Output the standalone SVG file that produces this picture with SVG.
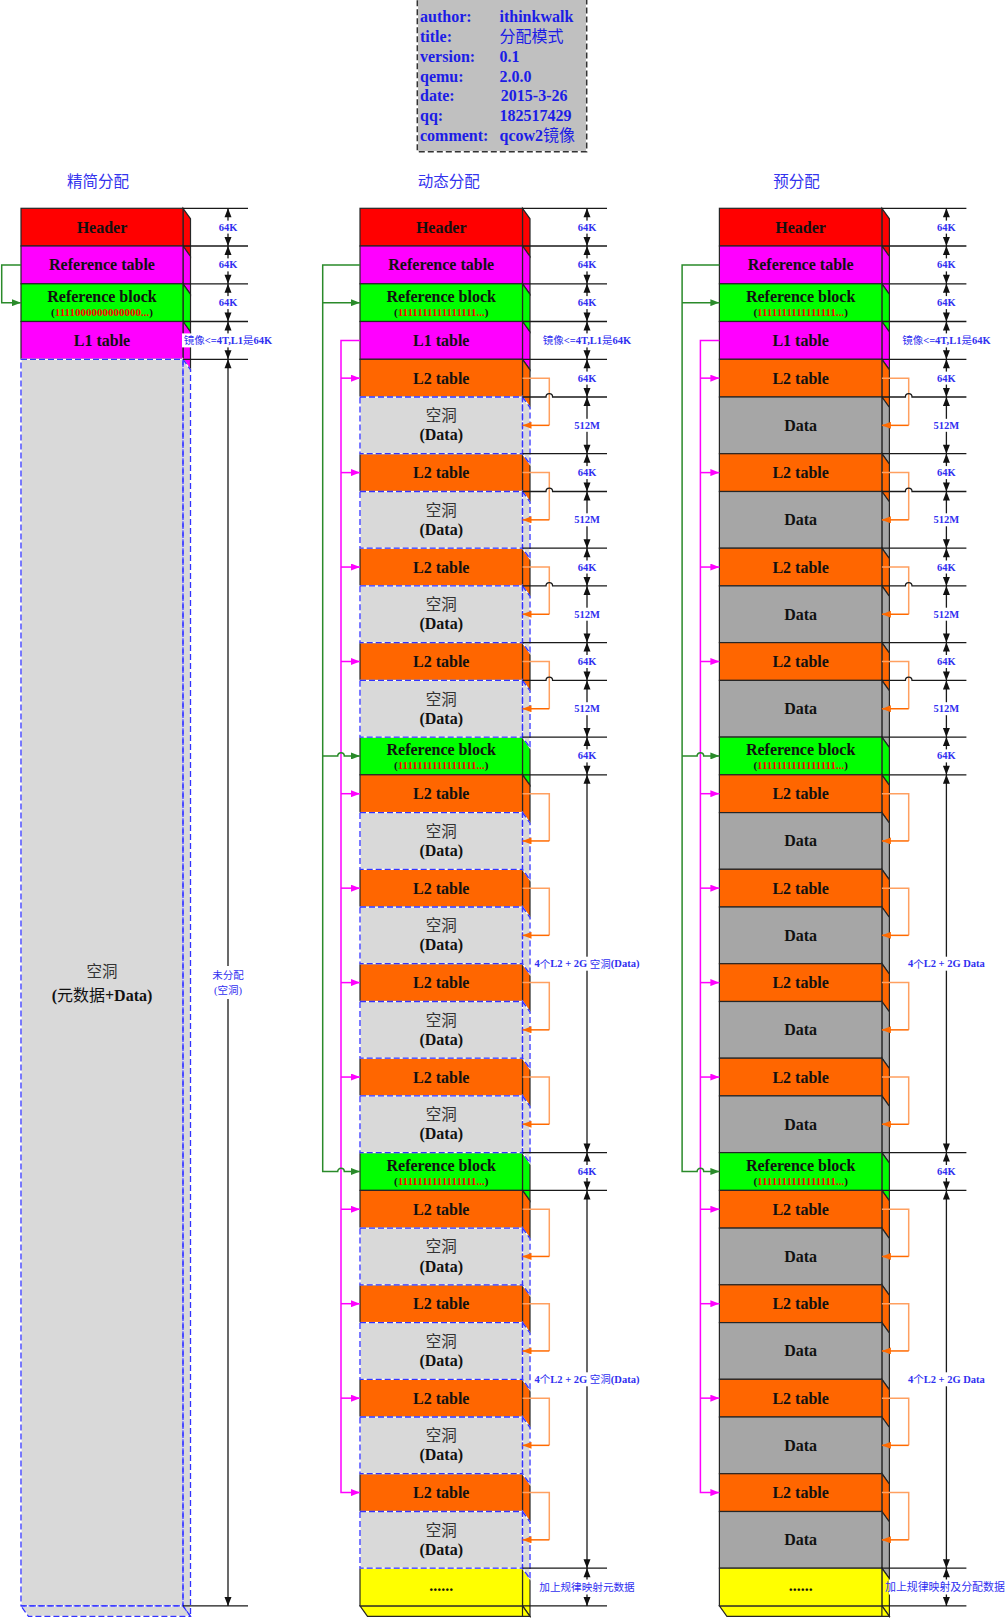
<svg xmlns="http://www.w3.org/2000/svg" width="1006" height="1618" viewBox="0 0 1006 1618">
<style>
text{font-family:'Liberation Serif','Noto Sans CJK SC',serif;dominant-baseline:central}
.b{font-size:16px;font-weight:bold;fill:#111;text-anchor:middle}
.s{font-size:11px;font-weight:bold;fill:#111;text-anchor:middle}
.r{fill:#FF0000}
.k{font-weight:normal}
.hz{font-size:15.5px;fill:#333;text-anchor:middle}
.d{font-size:10.5px;font-weight:bold;fill:#3030F0;text-anchor:middle}
.dc{font-size:10.5px;fill:#3030F0;text-anchor:middle}
.ttl{font-size:15.5px;fill:#3333EE;text-anchor:middle}
.inf{font-size:16px;font-weight:bold;fill:#1C1CE6}
.o{stroke:#262626;stroke-width:1.2}
.red{fill:#FF0000}.mag{fill:#FF00FF}.grn{fill:#00FF00}.org{fill:#FF6600}.yel{fill:#FFFF00}.dat{fill:#A6A6A6}
.hole{fill:#D9D9D9;stroke:#FFFFFF;stroke-width:1.3}
.hd{fill:none;stroke:#3333FF;stroke-width:1.3;stroke-dasharray:6 3}
.ext{fill:none;stroke:#1a1a1a;stroke-width:1.3}
.bg{fill:#FFFFFF}
.cg{fill:none;stroke:#2A8A2A;stroke-width:1.5}
.cm{fill:none;stroke:#FF00FF;stroke-width:1.5}
.co1{fill:none;stroke:#FFA060;stroke-width:1.5}
.co2{fill:none;stroke:#FF6A00;stroke-width:1.5}
.ah{fill:#111}
</style>
<defs>
<marker id="ag" markerUnits="userSpaceOnUse" markerWidth="9" markerHeight="7" refX="9" refY="3.5" orient="auto"><path d="M0,0L9,3.5L0,7z" fill="#2A8A2A"/></marker>
<marker id="am" markerUnits="userSpaceOnUse" markerWidth="9" markerHeight="7" refX="9" refY="3.5" orient="auto"><path d="M0,0L9,3.5L0,7z" fill="#FF00FF"/></marker>
<marker id="ao" markerUnits="userSpaceOnUse" markerWidth="9" markerHeight="7" refX="9" refY="3.5" orient="auto"><path d="M0,0L9,3.5L0,7z" fill="#FF6A00"/></marker>
</defs>
<rect width="1006" height="1618" fill="#FFFFFF"/>

<!-- info box -->
<g id="info">
<rect x="417.3" y="-3" width="169.4" height="154.7" fill="#C0C0C0" stroke="#FFFFFF" stroke-width="1.5"/>
<rect x="417.3" y="-3" width="169.4" height="154.7" fill="none" stroke="#333" stroke-width="1.5" stroke-dasharray="6 3"/>
<text class="inf" x="420" y="16">author:</text><text class="inf" x="499.5" y="16">ithinkwalk</text>
<text class="inf" x="420" y="36">title:</text><text class="inf" x="499.5" y="36"><tspan class="k">分配模式</tspan></text>
<text class="inf" x="420" y="56.5">version:</text><text class="inf" x="499.5" y="56.5">0.1</text>
<text class="inf" x="420" y="76">qemu:</text><text class="inf" x="499.5" y="76">2.0.0</text>
<text class="inf" x="420" y="95.7">date:</text><text class="inf" x="500.8" y="95.7">2015-3-26</text>
<text class="inf" x="420" y="115">qq:</text><text class="inf" x="499.5" y="115">182517429</text>
<text class="inf" x="420" y="135">comment:</text><text class="inf" x="499.5" y="135">qcow2<tspan class="k">镜像</tspan></text>
</g>

<g id="titles">
<text class="ttl" x="98" y="181.7">精简分配</text>
<text class="ttl" x="448.8" y="181.7">动态分配</text>
<text class="ttl" x="796.5" y="181.7">预分配</text>
</g>

<!-- LEFT COLUMN -->
<g id="left-col">
<g id="l-header"><polygon class="red o" points="183,208.3 190.5,218.8 190.5,256.5 183,246"/><rect class="red o" x="21" y="208.3" width="162" height="37.7"/><text class="b" x="102" y="227.15">Header</text></g>
<g id="l-reftable"><polygon class="mag o" points="183,246 190.5,256.5 190.5,294.3 183,283.8"/><rect class="mag o" x="21" y="246" width="162" height="37.8"/><text class="b" x="102" y="264.9">Reference table</text></g>
<g id="l-refblock"><polygon class="grn o" points="183,283.8 190.5,294.3 190.5,332 183,321.5"/><rect class="grn o" x="21" y="283.8" width="162" height="37.7"/><text class="b" x="102" y="296.3">Reference block</text><text class="s" x="102" y="311.7">(<tspan class="r">1111000000000000...</tspan>)</text></g>
<g id="l-l1"><polygon class="mag o" points="183,321.5 190.5,332 190.5,369.8 183,359.3"/><rect class="mag o" x="21" y="321.5" width="162" height="37.8"/><text class="b" x="102" y="340.4">L1 table</text></g>
<g id="l-hole">
<polygon class="hole" points="183,359.3 190.5,369.8 190.5,1616.4 183,1605.9"/>
<polygon class="hole" points="21,1605.9 183,1605.9 190.5,1616.4 28.5,1616.4"/>
<rect class="hole" x="21" y="359.3" width="162" height="1246.6"/>
<polygon class="hd" points="183,359.3 190.5,369.8 190.5,1616.4 183,1605.9"/>
<polygon class="hd" points="21,1605.9 183,1605.9 190.5,1616.4 28.5,1616.4"/>
<rect class="hd" x="21" y="359.3" width="162" height="1246.6"/>
<text class="hz" x="102" y="971.7">空洞</text>
<text class="b" x="102" y="995">(<tspan class="k">元数据</tspan>+Data)</text>
</g>
</g>

<!-- MIDDLE COLUMN -->
<g id="mid-col">
<g id="m-header"><polygon class="red o" points="522.5,208.3 530,218.8 530,256.5 522.5,246"/><rect class="red o" x="360" y="208.3" width="162.5" height="37.7"/><text class="b" x="441.25" y="227.15">Header</text></g>
<g id="m-reftable"><polygon class="mag o" points="522.5,246 530,256.5 530,294.3 522.5,283.8"/><rect class="mag o" x="360" y="246" width="162.5" height="37.8"/><text class="b" x="441.25" y="264.9">Reference table</text></g>
<g id="m-refblock1"><polygon class="grn o" points="522.5,283.8 530,294.3 530,332 522.5,321.5"/><rect class="grn o" x="360" y="283.8" width="162.5" height="37.7"/><text class="b" x="441.25" y="296.3">Reference block</text><text class="s" x="441.25" y="311.7">(<tspan class="r">1111111111111111...</tspan>)</text></g>
<g id="m-l1"><polygon class="mag o" points="522.5,321.5 530,332 530,369.8 522.5,359.3"/><rect class="mag o" x="360" y="321.5" width="162.5" height="37.8"/><text class="b" x="441.25" y="340.4">L1 table</text></g>
<g id="m-l2-1"><polygon class="org o" points="522.5,359.3 530,369.8 530,407.5 522.5,397"/><rect class="org o" x="360" y="359.3" width="162.5" height="37.7"/><text class="b" x="441.25" y="378.15">L2 table</text></g>
<g id="m-l2-2"><polygon class="org o" points="522.5,453.7 530,464.2 530,502 522.5,491.5"/><rect class="org o" x="360" y="453.7" width="162.5" height="37.8"/><text class="b" x="441.25" y="472.6">L2 table</text></g>
<g id="m-l2-3"><polygon class="org o" points="522.5,548.2 530,558.7 530,596.4 522.5,585.9"/><rect class="org o" x="360" y="548.2" width="162.5" height="37.7"/><text class="b" x="441.25" y="567.05">L2 table</text></g>
<g id="m-l2-4"><polygon class="org o" points="522.5,642.6 530,653.1 530,690.9 522.5,680.4"/><rect class="org o" x="360" y="642.6" width="162.5" height="37.8"/><text class="b" x="441.25" y="661.5">L2 table</text></g>
<g id="m-refblock2"><polygon class="grn o" points="522.5,737.1 530,747.6 530,785.3 522.5,774.8"/><rect class="grn o" x="360" y="737.1" width="162.5" height="37.7"/><text class="b" x="441.25" y="749.6">Reference block</text><text class="s" x="441.25" y="765">(<tspan class="r">1111111111111111...</tspan>)</text></g>
<g id="m-l2-5"><polygon class="org o" points="522.5,774.8 530,785.3 530,823.1 522.5,812.6"/><rect class="org o" x="360" y="774.8" width="162.5" height="37.8"/><text class="b" x="441.25" y="793.7">L2 table</text></g>
<g id="m-l2-6"><polygon class="org o" points="522.5,869.3 530,879.8 530,917.5 522.5,907"/><rect class="org o" x="360" y="869.3" width="162.5" height="37.7"/><text class="b" x="441.25" y="888.15">L2 table</text></g>
<g id="m-l2-7"><polygon class="org o" points="522.5,963.7 530,974.2 530,1012 522.5,1001.5"/><rect class="org o" x="360" y="963.7" width="162.5" height="37.8"/><text class="b" x="441.25" y="982.6">L2 table</text></g>
<g id="m-l2-8"><polygon class="org o" points="522.5,1058.2 530,1068.7 530,1106.4 522.5,1095.9"/><rect class="org o" x="360" y="1058.2" width="162.5" height="37.7"/><text class="b" x="441.25" y="1077.05">L2 table</text></g>
<g id="m-refblock3"><polygon class="grn o" points="522.5,1152.6 530,1163.1 530,1200.9 522.5,1190.4"/><rect class="grn o" x="360" y="1152.6" width="162.5" height="37.8"/><text class="b" x="441.25" y="1165.1">Reference block</text><text class="s" x="441.25" y="1180.5">(<tspan class="r">1111111111111111...</tspan>)</text></g>
<g id="m-l2-9"><polygon class="org o" points="522.5,1190.4 530,1200.9 530,1238.6 522.5,1228.1"/><rect class="org o" x="360" y="1190.4" width="162.5" height="37.7"/><text class="b" x="441.25" y="1209.25">L2 table</text></g>
<g id="m-l2-10"><polygon class="org o" points="522.5,1284.8 530,1295.3 530,1333.1 522.5,1322.6"/><rect class="org o" x="360" y="1284.8" width="162.5" height="37.8"/><text class="b" x="441.25" y="1303.7">L2 table</text></g>
<g id="m-l2-11"><polygon class="org o" points="522.5,1379.3 530,1389.8 530,1427.5 522.5,1417"/><rect class="org o" x="360" y="1379.3" width="162.5" height="37.7"/><text class="b" x="441.25" y="1398.15">L2 table</text></g>
<g id="m-l2-12"><polygon class="org o" points="522.5,1473.7 530,1484.2 530,1522 522.5,1511.5"/><rect class="org o" x="360" y="1473.7" width="162.5" height="37.8"/><text class="b" x="441.25" y="1492.6">L2 table</text></g>
<g id="m-more"><polygon class="yel o" points="522.5,1568.2 530,1578.7 530,1616.4 522.5,1605.9"/><polygon class="yel o" points="360,1605.9 522.5,1605.9 530,1616.4 367.5,1616.4"/><rect class="yel o" x="360" y="1568.2" width="162.5" height="37.7"/><line class="o" x1="522.5" y1="1605.9" x2="522.5" y2="1616.4"/><text class="b" x="441.25" y="1585">......</text></g>

<g id="m-hole-1"><polygon class="hole" points="522.5,397 530,407.5 530,464.2 522.5,453.7"/><rect class="hole" x="360" y="397" width="162.5" height="56.7"/><polygon class="hd" points="522.5,397 530,407.5 530,464.2 522.5,453.7"/><rect class="hd" x="360" y="397" width="162.5" height="56.7"/><text class="hz" x="441.25" y="415.65">空洞</text><text class="b" x="441.25" y="434.95">(Data)</text></g>
<g id="m-hole-2"><polygon class="hole" points="522.5,491.5 530,502 530,558.7 522.5,548.2"/><rect class="hole" x="360" y="491.5" width="162.5" height="56.7"/><polygon class="hd" points="522.5,491.5 530,502 530,558.7 522.5,548.2"/><rect class="hd" x="360" y="491.5" width="162.5" height="56.7"/><text class="hz" x="441.25" y="510.15">空洞</text><text class="b" x="441.25" y="529.45">(Data)</text></g>
<g id="m-hole-3"><polygon class="hole" points="522.5,585.9 530,596.4 530,653.1 522.5,642.6"/><rect class="hole" x="360" y="585.9" width="162.5" height="56.7"/><polygon class="hd" points="522.5,585.9 530,596.4 530,653.1 522.5,642.6"/><rect class="hd" x="360" y="585.9" width="162.5" height="56.7"/><text class="hz" x="441.25" y="604.55">空洞</text><text class="b" x="441.25" y="623.85">(Data)</text></g>
<g id="m-hole-4"><polygon class="hole" points="522.5,680.4 530,690.9 530,747.6 522.5,737.1"/><rect class="hole" x="360" y="680.4" width="162.5" height="56.7"/><polygon class="hd" points="522.5,680.4 530,690.9 530,747.6 522.5,737.1"/><rect class="hd" x="360" y="680.4" width="162.5" height="56.7"/><text class="hz" x="441.25" y="699.05">空洞</text><text class="b" x="441.25" y="718.35">(Data)</text></g>
<g id="m-hole-5"><polygon class="hole" points="522.5,812.6 530,823.1 530,879.8 522.5,869.3"/><rect class="hole" x="360" y="812.6" width="162.5" height="56.7"/><polygon class="hd" points="522.5,812.6 530,823.1 530,879.8 522.5,869.3"/><rect class="hd" x="360" y="812.6" width="162.5" height="56.7"/><text class="hz" x="441.25" y="831.25">空洞</text><text class="b" x="441.25" y="850.55">(Data)</text></g>
<g id="m-hole-6"><polygon class="hole" points="522.5,907 530,917.5 530,974.2 522.5,963.7"/><rect class="hole" x="360" y="907" width="162.5" height="56.7"/><polygon class="hd" points="522.5,907 530,917.5 530,974.2 522.5,963.7"/><rect class="hd" x="360" y="907" width="162.5" height="56.7"/><text class="hz" x="441.25" y="925.65">空洞</text><text class="b" x="441.25" y="944.95">(Data)</text></g>
<g id="m-hole-7"><polygon class="hole" points="522.5,1001.5 530,1012 530,1068.7 522.5,1058.2"/><rect class="hole" x="360" y="1001.5" width="162.5" height="56.7"/><polygon class="hd" points="522.5,1001.5 530,1012 530,1068.7 522.5,1058.2"/><rect class="hd" x="360" y="1001.5" width="162.5" height="56.7"/><text class="hz" x="441.25" y="1020.15">空洞</text><text class="b" x="441.25" y="1039.45">(Data)</text></g>
<g id="m-hole-8"><polygon class="hole" points="522.5,1095.9 530,1106.4 530,1163.1 522.5,1152.6"/><rect class="hole" x="360" y="1095.9" width="162.5" height="56.7"/><polygon class="hd" points="522.5,1095.9 530,1106.4 530,1163.1 522.5,1152.6"/><rect class="hd" x="360" y="1095.9" width="162.5" height="56.7"/><text class="hz" x="441.25" y="1114.55">空洞</text><text class="b" x="441.25" y="1133.85">(Data)</text></g>
<g id="m-hole-9"><polygon class="hole" points="522.5,1228.1 530,1238.6 530,1295.3 522.5,1284.8"/><rect class="hole" x="360" y="1228.1" width="162.5" height="56.7"/><polygon class="hd" points="522.5,1228.1 530,1238.6 530,1295.3 522.5,1284.8"/><rect class="hd" x="360" y="1228.1" width="162.5" height="56.7"/><text class="hz" x="441.25" y="1246.75">空洞</text><text class="b" x="441.25" y="1266.05">(Data)</text></g>
<g id="m-hole-10"><polygon class="hole" points="522.5,1322.6 530,1333.1 530,1389.8 522.5,1379.3"/><rect class="hole" x="360" y="1322.6" width="162.5" height="56.7"/><polygon class="hd" points="522.5,1322.6 530,1333.1 530,1389.8 522.5,1379.3"/><rect class="hd" x="360" y="1322.6" width="162.5" height="56.7"/><text class="hz" x="441.25" y="1341.25">空洞</text><text class="b" x="441.25" y="1360.55">(Data)</text></g>
<g id="m-hole-11"><polygon class="hole" points="522.5,1417 530,1427.5 530,1484.2 522.5,1473.7"/><rect class="hole" x="360" y="1417" width="162.5" height="56.7"/><polygon class="hd" points="522.5,1417 530,1427.5 530,1484.2 522.5,1473.7"/><rect class="hd" x="360" y="1417" width="162.5" height="56.7"/><text class="hz" x="441.25" y="1435.65">空洞</text><text class="b" x="441.25" y="1454.95">(Data)</text></g>
<g id="m-hole-12"><polygon class="hole" points="522.5,1511.5 530,1522 530,1578.7 522.5,1568.2"/><rect class="hole" x="360" y="1511.5" width="162.5" height="56.7"/><polygon class="hd" points="522.5,1511.5 530,1522 530,1578.7 522.5,1568.2"/><rect class="hd" x="360" y="1511.5" width="162.5" height="56.7"/><text class="hz" x="441.25" y="1530.15">空洞</text><text class="b" x="441.25" y="1549.45">(Data)</text></g>
</g>

<!-- RIGHT COLUMN (same geometry shifted) -->
<g id="right-col" transform="translate(359.4,0)">
<g id="r-header"><polygon class="red o" points="522.5,208.3 530,218.8 530,256.5 522.5,246"/><rect class="red o" x="360" y="208.3" width="162.5" height="37.7"/><text class="b" x="441.25" y="227.15">Header</text></g>
<g id="r-reftable"><polygon class="mag o" points="522.5,246 530,256.5 530,294.3 522.5,283.8"/><rect class="mag o" x="360" y="246" width="162.5" height="37.8"/><text class="b" x="441.25" y="264.9">Reference table</text></g>
<g id="r-refblock1"><polygon class="grn o" points="522.5,283.8 530,294.3 530,332 522.5,321.5"/><rect class="grn o" x="360" y="283.8" width="162.5" height="37.7"/><text class="b" x="441.25" y="296.3">Reference block</text><text class="s" x="441.25" y="311.7">(<tspan class="r">1111111111111111...</tspan>)</text></g>
<g id="r-l1"><polygon class="mag o" points="522.5,321.5 530,332 530,369.8 522.5,359.3"/><rect class="mag o" x="360" y="321.5" width="162.5" height="37.8"/><text class="b" x="441.25" y="340.4">L1 table</text></g>
<g id="r-l2-1"><polygon class="org o" points="522.5,359.3 530,369.8 530,407.5 522.5,397"/><rect class="org o" x="360" y="359.3" width="162.5" height="37.7"/><text class="b" x="441.25" y="378.15">L2 table</text></g>
<g id="r-data-1"><polygon class="dat o" points="522.5,397 530,407.5 530,464.2 522.5,453.7"/><rect class="dat o" x="360" y="397" width="162.5" height="56.7"/><text class="b" x="441.25" y="425.35">Data</text></g>
<g id="r-l2-2"><polygon class="org o" points="522.5,453.7 530,464.2 530,502 522.5,491.5"/><rect class="org o" x="360" y="453.7" width="162.5" height="37.8"/><text class="b" x="441.25" y="472.6">L2 table</text></g>
<g id="r-data-2"><polygon class="dat o" points="522.5,491.5 530,502 530,558.7 522.5,548.2"/><rect class="dat o" x="360" y="491.5" width="162.5" height="56.7"/><text class="b" x="441.25" y="519.85">Data</text></g>
<g id="r-l2-3"><polygon class="org o" points="522.5,548.2 530,558.7 530,596.4 522.5,585.9"/><rect class="org o" x="360" y="548.2" width="162.5" height="37.7"/><text class="b" x="441.25" y="567.05">L2 table</text></g>
<g id="r-data-3"><polygon class="dat o" points="522.5,585.9 530,596.4 530,653.1 522.5,642.6"/><rect class="dat o" x="360" y="585.9" width="162.5" height="56.7"/><text class="b" x="441.25" y="614.25">Data</text></g>
<g id="r-l2-4"><polygon class="org o" points="522.5,642.6 530,653.1 530,690.9 522.5,680.4"/><rect class="org o" x="360" y="642.6" width="162.5" height="37.8"/><text class="b" x="441.25" y="661.5">L2 table</text></g>
<g id="r-data-4"><polygon class="dat o" points="522.5,680.4 530,690.9 530,747.6 522.5,737.1"/><rect class="dat o" x="360" y="680.4" width="162.5" height="56.7"/><text class="b" x="441.25" y="708.75">Data</text></g>
<g id="r-refblock2"><polygon class="grn o" points="522.5,737.1 530,747.6 530,785.3 522.5,774.8"/><rect class="grn o" x="360" y="737.1" width="162.5" height="37.7"/><text class="b" x="441.25" y="749.6">Reference block</text><text class="s" x="441.25" y="765">(<tspan class="r">1111111111111111...</tspan>)</text></g>
<g id="r-l2-5"><polygon class="org o" points="522.5,774.8 530,785.3 530,823.1 522.5,812.6"/><rect class="org o" x="360" y="774.8" width="162.5" height="37.8"/><text class="b" x="441.25" y="793.7">L2 table</text></g>
<g id="r-data-5"><polygon class="dat o" points="522.5,812.6 530,823.1 530,879.8 522.5,869.3"/><rect class="dat o" x="360" y="812.6" width="162.5" height="56.7"/><text class="b" x="441.25" y="840.95">Data</text></g>
<g id="r-l2-6"><polygon class="org o" points="522.5,869.3 530,879.8 530,917.5 522.5,907"/><rect class="org o" x="360" y="869.3" width="162.5" height="37.7"/><text class="b" x="441.25" y="888.15">L2 table</text></g>
<g id="r-data-6"><polygon class="dat o" points="522.5,907 530,917.5 530,974.2 522.5,963.7"/><rect class="dat o" x="360" y="907" width="162.5" height="56.7"/><text class="b" x="441.25" y="935.35">Data</text></g>
<g id="r-l2-7"><polygon class="org o" points="522.5,963.7 530,974.2 530,1012 522.5,1001.5"/><rect class="org o" x="360" y="963.7" width="162.5" height="37.8"/><text class="b" x="441.25" y="982.6">L2 table</text></g>
<g id="r-data-7"><polygon class="dat o" points="522.5,1001.5 530,1012 530,1068.7 522.5,1058.2"/><rect class="dat o" x="360" y="1001.5" width="162.5" height="56.7"/><text class="b" x="441.25" y="1029.85">Data</text></g>
<g id="r-l2-8"><polygon class="org o" points="522.5,1058.2 530,1068.7 530,1106.4 522.5,1095.9"/><rect class="org o" x="360" y="1058.2" width="162.5" height="37.7"/><text class="b" x="441.25" y="1077.05">L2 table</text></g>
<g id="r-data-8"><polygon class="dat o" points="522.5,1095.9 530,1106.4 530,1163.1 522.5,1152.6"/><rect class="dat o" x="360" y="1095.9" width="162.5" height="56.7"/><text class="b" x="441.25" y="1124.25">Data</text></g>
<g id="r-refblock3"><polygon class="grn o" points="522.5,1152.6 530,1163.1 530,1200.9 522.5,1190.4"/><rect class="grn o" x="360" y="1152.6" width="162.5" height="37.8"/><text class="b" x="441.25" y="1165.1">Reference block</text><text class="s" x="441.25" y="1180.5">(<tspan class="r">1111111111111111...</tspan>)</text></g>
<g id="r-l2-9"><polygon class="org o" points="522.5,1190.4 530,1200.9 530,1238.6 522.5,1228.1"/><rect class="org o" x="360" y="1190.4" width="162.5" height="37.7"/><text class="b" x="441.25" y="1209.25">L2 table</text></g>
<g id="r-data-9"><polygon class="dat o" points="522.5,1228.1 530,1238.6 530,1295.3 522.5,1284.8"/><rect class="dat o" x="360" y="1228.1" width="162.5" height="56.7"/><text class="b" x="441.25" y="1256.45">Data</text></g>
<g id="r-l2-10"><polygon class="org o" points="522.5,1284.8 530,1295.3 530,1333.1 522.5,1322.6"/><rect class="org o" x="360" y="1284.8" width="162.5" height="37.8"/><text class="b" x="441.25" y="1303.7">L2 table</text></g>
<g id="r-data-10"><polygon class="dat o" points="522.5,1322.6 530,1333.1 530,1389.8 522.5,1379.3"/><rect class="dat o" x="360" y="1322.6" width="162.5" height="56.7"/><text class="b" x="441.25" y="1350.95">Data</text></g>
<g id="r-l2-11"><polygon class="org o" points="522.5,1379.3 530,1389.8 530,1427.5 522.5,1417"/><rect class="org o" x="360" y="1379.3" width="162.5" height="37.7"/><text class="b" x="441.25" y="1398.15">L2 table</text></g>
<g id="r-data-11"><polygon class="dat o" points="522.5,1417 530,1427.5 530,1484.2 522.5,1473.7"/><rect class="dat o" x="360" y="1417" width="162.5" height="56.7"/><text class="b" x="441.25" y="1445.35">Data</text></g>
<g id="r-l2-12"><polygon class="org o" points="522.5,1473.7 530,1484.2 530,1522 522.5,1511.5"/><rect class="org o" x="360" y="1473.7" width="162.5" height="37.8"/><text class="b" x="441.25" y="1492.6">L2 table</text></g>
<g id="r-data-12"><polygon class="dat o" points="522.5,1511.5 530,1522 530,1578.7 522.5,1568.2"/><rect class="dat o" x="360" y="1511.5" width="162.5" height="56.7"/><text class="b" x="441.25" y="1539.85">Data</text></g>
<g id="r-more"><polygon class="yel o" points="522.5,1568.2 530,1578.7 530,1616.4 522.5,1605.9"/><polygon class="yel o" points="360,1605.9 522.5,1605.9 530,1616.4 367.5,1616.4"/><rect class="yel o" x="360" y="1568.2" width="162.5" height="37.7"/><line class="o" x1="522.5" y1="1605.9" x2="522.5" y2="1616.4"/><text class="b" x="441.25" y="1585">......</text></g>
</g>

<!-- CONNECTORS -->
<g id="connectors">
<g id="left-conn">
<path class="cg" d="M21,264.9H1.7V302.65H21" marker-end="url(#ag)"/>
</g>
<g id="mid-conn">
<path class="cm" d="M360,340.4H341V1492.6H360" marker-end="url(#am)"/>
<path class="cm" d="M341,378.15H360" marker-end="url(#am)"/>
<path class="cm" d="M341,472.6H360" marker-end="url(#am)"/>
<path class="cm" d="M341,567.05H360" marker-end="url(#am)"/>
<path class="cm" d="M341,661.5H360" marker-end="url(#am)"/>
<path class="cm" d="M341,793.7H360" marker-end="url(#am)"/>
<path class="cm" d="M341,888.15H360" marker-end="url(#am)"/>
<path class="cm" d="M341,982.6H360" marker-end="url(#am)"/>
<path class="cm" d="M341,1077.05H360" marker-end="url(#am)"/>
<path class="cm" d="M341,1209.25H360" marker-end="url(#am)"/>
<path class="cm" d="M341,1303.7H360" marker-end="url(#am)"/>
<path class="cm" d="M341,1398.15H360" marker-end="url(#am)"/>
<path class="cg" d="M360,264.9H322.7V1171.5H337.7a3.3,3.3 0 0 1 6.6,0H360" marker-end="url(#ag)"/>
<path class="cg" d="M322.7,302.65H360" marker-end="url(#ag)"/>
<path class="cg" d="M322.7,755.95H337.7a3.3,3.3 0 0 1 6.6,0H360" marker-end="url(#ag)"/>
<path class="co1" d="M522.5,378.15H549.3V425.35M522.5,472.6H549.3V519.85M522.5,567.05H549.3V614.25M522.5,661.5H549.3V708.75M522.5,793.7H549.3V840.95M522.5,888.15H549.3V935.35M522.5,982.6H549.3V1029.85M522.5,1077.05H549.3V1124.25M522.5,1209.25H549.3V1256.45M522.5,1303.7H549.3V1350.95M522.5,1398.15H549.3V1445.35M522.5,1492.6H549.3V1539.85"/>
<path class="co2" d="M549.3,425.35H522.5" marker-end="url(#ao)"/>
<path class="co2" d="M549.3,519.85H522.5" marker-end="url(#ao)"/>
<path class="co2" d="M549.3,614.25H522.5" marker-end="url(#ao)"/>
<path class="co2" d="M549.3,708.75H522.5" marker-end="url(#ao)"/>
<path class="co2" d="M549.3,840.95H522.5" marker-end="url(#ao)"/>
<path class="co2" d="M549.3,935.35H522.5" marker-end="url(#ao)"/>
<path class="co2" d="M549.3,1029.85H522.5" marker-end="url(#ao)"/>
<path class="co2" d="M549.3,1124.25H522.5" marker-end="url(#ao)"/>
<path class="co2" d="M549.3,1256.45H522.5" marker-end="url(#ao)"/>
<path class="co2" d="M549.3,1350.95H522.5" marker-end="url(#ao)"/>
<path class="co2" d="M549.3,1445.35H522.5" marker-end="url(#ao)"/>
<path class="co2" d="M549.3,1539.85H522.5" marker-end="url(#ao)"/>
</g>
<g id="right-conn" transform="translate(359.4,0)">
<path class="cm" d="M360,340.4H341V1492.6H360" marker-end="url(#am)"/>
<path class="cm" d="M341,378.15H360" marker-end="url(#am)"/>
<path class="cm" d="M341,472.6H360" marker-end="url(#am)"/>
<path class="cm" d="M341,567.05H360" marker-end="url(#am)"/>
<path class="cm" d="M341,661.5H360" marker-end="url(#am)"/>
<path class="cm" d="M341,793.7H360" marker-end="url(#am)"/>
<path class="cm" d="M341,888.15H360" marker-end="url(#am)"/>
<path class="cm" d="M341,982.6H360" marker-end="url(#am)"/>
<path class="cm" d="M341,1077.05H360" marker-end="url(#am)"/>
<path class="cm" d="M341,1209.25H360" marker-end="url(#am)"/>
<path class="cm" d="M341,1303.7H360" marker-end="url(#am)"/>
<path class="cm" d="M341,1398.15H360" marker-end="url(#am)"/>
<path class="cg" d="M360,264.9H322.7V1171.5H337.7a3.3,3.3 0 0 1 6.6,0H360" marker-end="url(#ag)"/>
<path class="cg" d="M322.7,302.65H360" marker-end="url(#ag)"/>
<path class="cg" d="M322.7,755.95H337.7a3.3,3.3 0 0 1 6.6,0H360" marker-end="url(#ag)"/>
<path class="co1" d="M522.5,378.15H549.3V425.35M522.5,472.6H549.3V519.85M522.5,567.05H549.3V614.25M522.5,661.5H549.3V708.75M522.5,793.7H549.3V840.95M522.5,888.15H549.3V935.35M522.5,982.6H549.3V1029.85M522.5,1077.05H549.3V1124.25M522.5,1209.25H549.3V1256.45M522.5,1303.7H549.3V1350.95M522.5,1398.15H549.3V1445.35M522.5,1492.6H549.3V1539.85"/>
<path class="co2" d="M549.3,425.35H522.5" marker-end="url(#ao)"/>
<path class="co2" d="M549.3,519.85H522.5" marker-end="url(#ao)"/>
<path class="co2" d="M549.3,614.25H522.5" marker-end="url(#ao)"/>
<path class="co2" d="M549.3,708.75H522.5" marker-end="url(#ao)"/>
<path class="co2" d="M549.3,840.95H522.5" marker-end="url(#ao)"/>
<path class="co2" d="M549.3,935.35H522.5" marker-end="url(#ao)"/>
<path class="co2" d="M549.3,1029.85H522.5" marker-end="url(#ao)"/>
<path class="co2" d="M549.3,1124.25H522.5" marker-end="url(#ao)"/>
<path class="co2" d="M549.3,1256.45H522.5" marker-end="url(#ao)"/>
<path class="co2" d="M549.3,1350.95H522.5" marker-end="url(#ao)"/>
<path class="co2" d="M549.3,1445.35H522.5" marker-end="url(#ao)"/>
<path class="co2" d="M549.3,1539.85H522.5" marker-end="url(#ao)"/>
</g>
</g>

<!-- DIMENSIONS -->
<g id="dims-left">
<path class="ext" d="M183,208.3H248M183,246H248M183,283.8H248M183,321.5H248M183,359.3H248M183,1605.9H248M228,208.3V1605.9"/>
<path class="ah" d="M228,208.3l-3.5,9h7zM228,246l-3.5,-9h7zM228,246l-3.5,9h7zM228,283.8l-3.5,-9h7zM228,283.8l-3.5,9h7zM228,321.5l-3.5,-9h7zM228,321.5l-3.5,9h7zM228,359.3l-3.5,-9h7zM228,359.3l-3.5,9h7zM228,1605.9l-3.5,-9h7z"/>
<rect class="bg" x="217" y="220.6" width="22" height="13"/><text class="d" x="228" y="227.15">64K</text>
<rect class="bg" x="217" y="258.4" width="22" height="13"/><text class="d" x="228" y="264.9">64K</text>
<rect class="bg" x="217" y="296.1" width="22" height="13"/><text class="d" x="228" y="302.65">64K</text>
<rect class="bg" x="182" y="333.4" width="92" height="14"/><text class="d" x="228" y="340.4"><tspan class="k">镜像</tspan>&lt;=4T,L1<tspan class="k">是</tspan>64K</text>
<rect class="bg" x="211" y="966" width="34" height="33"/><text class="dc" x="228" y="975">未分配</text><text class="dc" x="228" y="990">(空洞)</text>
</g>

<g id="dims-mid">
<path class="ext" d="M522.5,208.3H607M522.5,246H607M522.5,283.8H607M522.5,321.5H607M522.5,359.3H607M522.5,397H546a3.3,3.3 0 0 1 6.6,0H607M522.5,453.7H607M522.5,491.5H546a3.3,3.3 0 0 1 6.6,0H607M522.5,548.2H607M522.5,585.9H546a3.3,3.3 0 0 1 6.6,0H607M522.5,642.6H607M522.5,680.4H546a3.3,3.3 0 0 1 6.6,0H607M522.5,737.1H607M522.5,774.8H607M522.5,1152.6H607M522.5,1190.4H607M522.5,1568.2H607M522.5,1605.9H607M587,208.3V1605.9"/>
<path class="ah" d="M587,208.3l-3.5,9h7zM587,246l-3.5,-9h7zM587,246l-3.5,9h7zM587,283.8l-3.5,-9h7zM587,283.8l-3.5,9h7zM587,321.5l-3.5,-9h7zM587,321.5l-3.5,9h7zM587,359.3l-3.5,-9h7zM587,359.3l-3.5,9h7zM587,397l-3.5,-9h7zM587,397l-3.5,9h7zM587,453.7l-3.5,-9h7zM587,453.7l-3.5,9h7zM587,491.5l-3.5,-9h7zM587,491.5l-3.5,9h7zM587,548.2l-3.5,-9h7zM587,548.2l-3.5,9h7zM587,585.9l-3.5,-9h7zM587,585.9l-3.5,9h7zM587,642.6l-3.5,-9h7zM587,642.6l-3.5,9h7zM587,680.4l-3.5,-9h7zM587,680.4l-3.5,9h7zM587,737.1l-3.5,-9h7zM587,737.1l-3.5,9h7zM587,774.8l-3.5,-9h7zM587,774.8l-3.5,9h7zM587,1152.6l-3.5,-9h7zM587,1152.6l-3.5,9h7zM587,1190.4l-3.5,-9h7zM587,1190.4l-3.5,9h7zM587,1568.2l-3.5,-9h7zM587,1568.2l-3.5,9h7zM587,1605.9l-3.5,-9h7z"/>
<rect class="bg" x="576" y="220.6" width="22" height="13"/><text class="d" x="587" y="227.15">64K</text>
<rect class="bg" x="576" y="258.4" width="22" height="13"/><text class="d" x="587" y="264.9">64K</text>
<rect class="bg" x="576" y="296.1" width="22" height="13"/><text class="d" x="587" y="302.65">64K</text>
<rect class="bg" x="541" y="333.4" width="92" height="14"/><text class="d" x="587" y="340.4"><tspan class="k">镜像</tspan>&lt;=4T,L1<tspan class="k">是</tspan>64K</text>
<rect class="bg" x="576" y="371.6" width="22" height="13"/><text class="d" x="587" y="378.15">64K</text>
<rect class="bg" x="573.5" y="418.8" width="27" height="13"/><text class="d" x="587" y="425.35">512M</text>
<rect class="bg" x="576" y="466.1" width="22" height="13"/><text class="d" x="587" y="472.6">64K</text>
<rect class="bg" x="573.5" y="513.3" width="27" height="13"/><text class="d" x="587" y="519.85">512M</text>
<rect class="bg" x="576" y="560.5" width="22" height="13"/><text class="d" x="587" y="567.05">64K</text>
<rect class="bg" x="573.5" y="607.7" width="27" height="13"/><text class="d" x="587" y="614.25">512M</text>
<rect class="bg" x="576" y="655" width="22" height="13"/><text class="d" x="587" y="661.5">64K</text>
<rect class="bg" x="573.5" y="702.2" width="27" height="13"/><text class="d" x="587" y="708.75">512M</text>
<rect class="bg" x="576" y="749.4" width="22" height="13"/><text class="d" x="587" y="755.95">64K</text>
<rect class="bg" x="533" y="956.7" width="108" height="14"/><text class="d" x="587" y="963.7">4<tspan class="k">个</tspan>L2 + 2G <tspan class="k">空洞</tspan>(Data)</text>
<rect class="bg" x="576" y="1165" width="22" height="13"/><text class="d" x="587" y="1171.5">64K</text>
<rect class="bg" x="533" y="1372.3" width="108" height="14"/><text class="d" x="587" y="1379.3">4<tspan class="k">个</tspan>L2 + 2G <tspan class="k">空洞</tspan>(Data)</text>
<rect class="bg" x="538" y="1579.5" width="98" height="15"/><text class="dc" x="587" y="1587.05" style="font-size:10.6px">加上规律映射元数据</text>
</g>

<g id="dims-right" transform="translate(359.4,0)">
<path class="ext" d="M522.5,208.3H607M522.5,246H607M522.5,283.8H607M522.5,321.5H607M522.5,359.3H607M522.5,397H546a3.3,3.3 0 0 1 6.6,0H607M522.5,453.7H607M522.5,491.5H546a3.3,3.3 0 0 1 6.6,0H607M522.5,548.2H607M522.5,585.9H546a3.3,3.3 0 0 1 6.6,0H607M522.5,642.6H607M522.5,680.4H546a3.3,3.3 0 0 1 6.6,0H607M522.5,737.1H607M522.5,774.8H607M522.5,1152.6H607M522.5,1190.4H607M522.5,1568.2H607M522.5,1605.9H607M587,208.3V1605.9"/>
<path class="ah" d="M587,208.3l-3.5,9h7zM587,246l-3.5,-9h7zM587,246l-3.5,9h7zM587,283.8l-3.5,-9h7zM587,283.8l-3.5,9h7zM587,321.5l-3.5,-9h7zM587,321.5l-3.5,9h7zM587,359.3l-3.5,-9h7zM587,359.3l-3.5,9h7zM587,397l-3.5,-9h7zM587,397l-3.5,9h7zM587,453.7l-3.5,-9h7zM587,453.7l-3.5,9h7zM587,491.5l-3.5,-9h7zM587,491.5l-3.5,9h7zM587,548.2l-3.5,-9h7zM587,548.2l-3.5,9h7zM587,585.9l-3.5,-9h7zM587,585.9l-3.5,9h7zM587,642.6l-3.5,-9h7zM587,642.6l-3.5,9h7zM587,680.4l-3.5,-9h7zM587,680.4l-3.5,9h7zM587,737.1l-3.5,-9h7zM587,737.1l-3.5,9h7zM587,774.8l-3.5,-9h7zM587,774.8l-3.5,9h7zM587,1152.6l-3.5,-9h7zM587,1152.6l-3.5,9h7zM587,1190.4l-3.5,-9h7zM587,1190.4l-3.5,9h7zM587,1568.2l-3.5,-9h7zM587,1568.2l-3.5,9h7zM587,1605.9l-3.5,-9h7z"/>
<rect class="bg" x="576" y="220.6" width="22" height="13"/><text class="d" x="587" y="227.15">64K</text>
<rect class="bg" x="576" y="258.4" width="22" height="13"/><text class="d" x="587" y="264.9">64K</text>
<rect class="bg" x="576" y="296.1" width="22" height="13"/><text class="d" x="587" y="302.65">64K</text>
<rect class="bg" x="541" y="333.4" width="92" height="14"/><text class="d" x="587" y="340.4"><tspan class="k">镜像</tspan>&lt;=4T,L1<tspan class="k">是</tspan>64K</text>
<rect class="bg" x="576" y="371.6" width="22" height="13"/><text class="d" x="587" y="378.15">64K</text>
<rect class="bg" x="573.5" y="418.8" width="27" height="13"/><text class="d" x="587" y="425.35">512M</text>
<rect class="bg" x="576" y="466.1" width="22" height="13"/><text class="d" x="587" y="472.6">64K</text>
<rect class="bg" x="573.5" y="513.3" width="27" height="13"/><text class="d" x="587" y="519.85">512M</text>
<rect class="bg" x="576" y="560.5" width="22" height="13"/><text class="d" x="587" y="567.05">64K</text>
<rect class="bg" x="573.5" y="607.7" width="27" height="13"/><text class="d" x="587" y="614.25">512M</text>
<rect class="bg" x="576" y="655" width="22" height="13"/><text class="d" x="587" y="661.5">64K</text>
<rect class="bg" x="573.5" y="702.2" width="27" height="13"/><text class="d" x="587" y="708.75">512M</text>
<rect class="bg" x="576" y="749.4" width="22" height="13"/><text class="d" x="587" y="755.95">64K</text>
<rect class="bg" x="546" y="956.7" width="82" height="14"/><text class="d" x="587" y="963.7">4<tspan class="k">个</tspan>L2 + 2G Data</text>
<rect class="bg" x="576" y="1165" width="22" height="13"/><text class="d" x="587" y="1171.5">64K</text>
<rect class="bg" x="546" y="1372.3" width="82" height="14"/><text class="d" x="587" y="1379.3">4<tspan class="k">个</tspan>L2 + 2G Data</text>
<rect class="bg" x="529.5" y="1579.5" width="113" height="15"/><text class="dc" x="585.5" y="1587.05" style="font-size:10.9px">加上规律映射及分配数据</text>
</g>
</svg>
